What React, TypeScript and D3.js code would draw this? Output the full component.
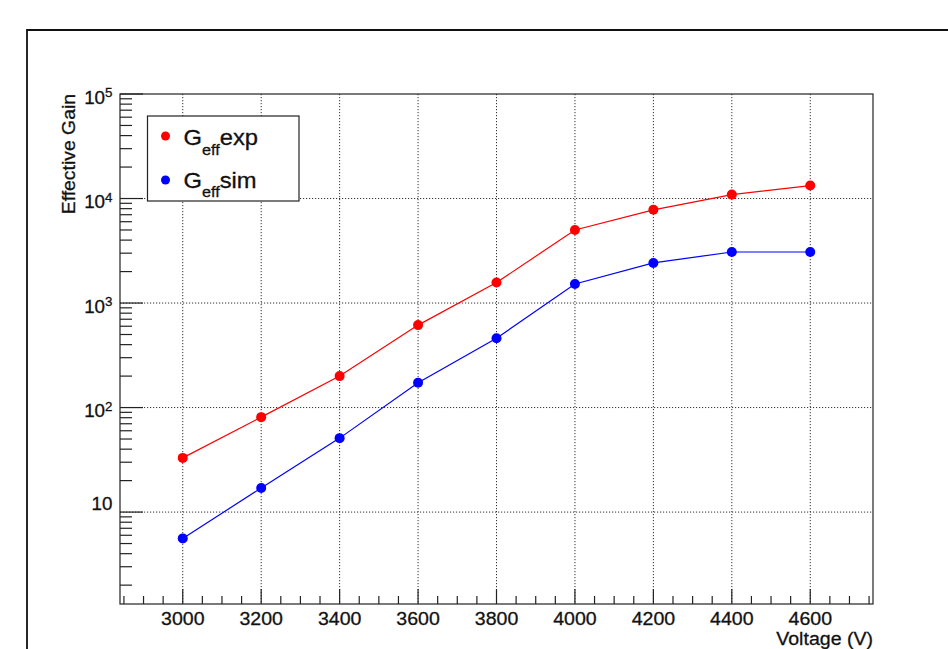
import React from 'react'
import * as d3 from 'd3'

// voltages (V) and effective gain
const voltages = [3000, 3200, 3400, 3600, 3800, 4000, 4200, 4400, 4600]
const gainExp = [33, 81, 200, 615, 1570, 5000, 7800, 10900, 13300]
const gainSim = [5.6, 17, 51, 173, 460, 1520, 2420, 3080, 3080]

const xTicks = [3000, 3200, 3400, 3600, 3800, 4000, 4200, 4400, 4600]
const yDecades = [1, 2, 3, 4, 5]
const legendItems = [
    { name: 'exp', color: '#ff0000' },
    { name: 'sim', color: '#0000ff' },
]

const W = 948, H = 649
const plot = { left: 120, right: 873, top: 94, bottom: 604 }
const FONT = '"Liberation Sans", Arial, Helvetica, sans-serif'
const FS = 19
const SX = 1.03

export default function App() {
    const x = d3.scaleLinear().domain([2840, 4760]).range([plot.left, plot.right])
    const y = d3.scaleLog().domain([1.32, 1e5]).range([plot.bottom, plot.top])

    const line = d3.line<number>()
        .x((d, i) => x(voltages[i]))
        .y(d => y(d))

    // minor ticks
    const xMinor = d3.range(2850, 4760, 50).filter(v => v % 200 !== 0)
    const yMinor: number[] = []
    for (let e = 0; e < 5; e++) {
        for (let m = 2; m <= 9; m++) {
            const v = m * Math.pow(10, e)
            if (v >= 1.32 && v < 1e5) yMinor.push(v)
        }
    }

    const series = [
        { data: gainExp, color: '#ff0000' },
        { data: gainSim, color: '#0000ff' },
    ]

    // slight stroke makes the text as heavy as the original rendering
    const txt = { fill: '#111', stroke: '#111', strokeWidth: 0.3 }

    return (
        <svg width={W} height={H} style={{ position: 'absolute', left: 0, top: 0, background: '#fff' }}
            fontFamily={FONT}>
            <rect width={W} height={H} fill="#fff" />
            {/* outer pad frame */}
            <path d={`M27,${H + 2}V30H${W + 2}`} fill="none" stroke="#111" strokeWidth={1.8} />

            {/* grid */}
            <g stroke="#333" strokeWidth={1} strokeDasharray="1.2,1.8">
                {xTicks.map(v => (
                    <line key={'gx' + v} x1={x(v)} x2={x(v)} y1={plot.top} y2={plot.bottom} />
                ))}
                {yDecades.slice(0, 4).map(e => (
                    <line key={'gy' + e} x1={plot.left} x2={plot.right} y1={y(Math.pow(10, e))} y2={y(Math.pow(10, e))} />
                ))}
            </g>

            {/* frame */}
            <rect x={plot.left} y={plot.top} width={plot.right - plot.left} height={plot.bottom - plot.top}
                fill="none" stroke="#222" strokeWidth={1.2} />

            {/* ticks */}
            <g stroke="#222" strokeWidth={1.2}>
                {xTicks.map(v => (
                    <line key={'xt' + v} x1={x(v)} x2={x(v)} y1={plot.bottom} y2={plot.bottom - 15} />
                ))}
                {xMinor.map(v => (
                    <line key={'xm' + v} x1={x(v)} x2={x(v)} y1={plot.bottom} y2={plot.bottom - 8} />
                ))}
                {yDecades.map(e => (
                    <line key={'yt' + e} x1={plot.left} x2={plot.left + 23} y1={y(Math.pow(10, e))} y2={y(Math.pow(10, e))} />
                ))}
                {yMinor.map(v => (
                    <line key={'ym' + v} x1={plot.left} x2={plot.left + 12} y1={y(v)} y2={y(v)} />
                ))}
            </g>

            {/* x labels */}
            <g fontSize={FS} textAnchor="middle" {...txt}>
                {xTicks.map(v => (
                    <text key={'xl' + v} transform={`translate(${x(v)},624.5) scale(${SX},1)`}>{v}</text>
                ))}
            </g>
            <text transform={`translate(${plot.right},645) scale(${SX},1)`} fontSize={FS} textAnchor="end" {...txt}>Voltage (V)</text>

            {/* y labels */}
            <g fontSize={FS} textAnchor="end" {...txt}>
                {yDecades.map(e => e === 1 ? (
                    <text key={'yl' + e} transform={`translate(112.5,${y(10) - 2}) scale(0.99,1)`}>10</text>
                ) : (
                    <text key={'yl' + e} transform={`translate(112.5,${y(Math.pow(10, e)) + 9.5}) scale(0.99,1)`}>
                        10<tspan dy={-6.5} fontSize={13.5}>{e}</tspan>
                    </text>
                ))}
            </g>
            <text transform={`translate(75,${plot.top}) rotate(-90) scale(1.02,1)`} fontSize={FS} textAnchor="end" {...txt}>Effective Gain</text>

            {/* series */}
            {series.map((s, k) => (
                <g key={'s' + k}>
                    <path d={line(s.data) || ''} fill="none" stroke={s.color} strokeWidth={1.2} />
                    {s.data.map((d, i) => (
                        <circle key={i} cx={x(voltages[i])} cy={y(d)} r={5} fill={s.color} />
                    ))}
                </g>
            ))}

            {/* legend */}
            <rect x={147.5} y={116} width={151.5} height={85} fill="#fff" stroke="#222" strokeWidth={1.2} />
            {legendItems.map((it, i) => (
                <g key={it.name}>
                    <circle cx={165.5} cy={136 + i * 44} r={4.5} fill={it.color} />
                    <text transform={`translate(183.5,${145 + i * 42.5}) scale(1.08,1)`} fontSize={22} {...txt}>
                        G<tspan dy={9.5} fontSize={15}>eff</tspan><tspan dy={-9.5}>{it.name}</tspan>
                    </text>
                </g>
            ))}
        </svg>
    )
}
